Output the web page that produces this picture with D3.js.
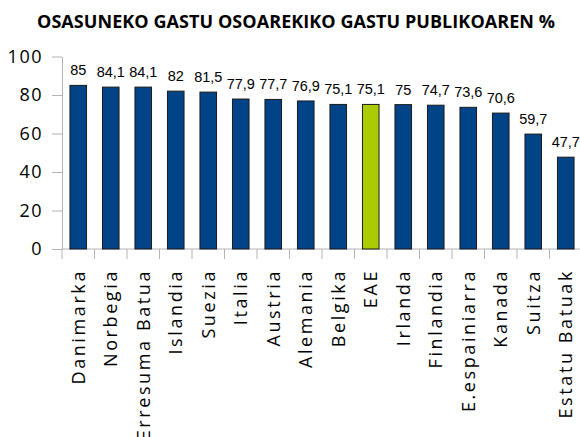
<!DOCTYPE html>
<html lang="eu">
<head>
    <meta charset="UTF-8">
    <title>Osasuneko gastua</title>
    <script src="https://d3js.org/d3.v7.min.js"></script>
    <style>
        body { margin: 0; background: #fff; }
        .axis path, .axis line { stroke: #b3b3b3; }
        .axis text { font-family: "Open Sans", sans-serif; fill: #000; }
    </style>
</head>
<body>
<script>
    const width  = 580;
    const height = 437;

    const countries = ["Danimarka", "Norbegia", "Erresuma Batua", "Islandia", "Suezia", "Italia",
                       "Austria", "Alemania", "Belgika", "EAE", "Irlanda", "Finlandia",
                       "E.espainiarra", "Kanada", "Suitza", "Estatu Batuak"];
    const values    = [85, 84.1, 84.1, 82, 81.5, 77.9, 77.7, 76.9, 75.1, 75.1, 75, 74.7, 73.6, 70.6, 59.7, 47.7];
    const yTicks    = [0, 20, 40, 60, 80, 100];
    const highlight = "EAE";

    const x = d3.scaleBand().domain(countries).range([62, 582]).paddingInner(0.49).paddingOuter(0.245);
    const y = d3.scaleLinear().domain([0, 100]).range([249, 56.5]);

    const svg = d3.select("body").append("svg").attr("width", width).attr("height", height);

    svg.append("text")
       .attr("x", 296).attr("y", 28)
       .attr("text-anchor", "middle")
       .attr("font-family", "Open Sans, sans-serif")
       .attr("font-weight", "bold")
       .attr("font-size", 18)
       .attr("textLength", 518)
       .text("OSASUNEKO GASTU OSOAREKIKO GASTU PUBLIKOAREN %");

    // y axis
    const yAxis = svg.append("g").attr("class", "axis")
        .attr("transform", "translate(62,0)")
        .call(d3.axisLeft(y).tickValues(yTicks).tickSize(10).tickPadding(9).tickSizeOuter(0));
    yAxis.selectAll("text").attr("font-size", 18).style("letter-spacing", "1.5px");

    // x axis, ticks sit between the categories
    const xAxis = svg.append("g").attr("class", "axis")
        .attr("transform", "translate(0,249)");
    xAxis.append("line").attr("x1", 62).attr("x2", 582);
    xAxis.selectAll(".sep")
        .data(countries)
        .join("line")
        .attr("x1", d => x(d) - x.step() * x.paddingInner() / 2)
        .attr("x2", d => x(d) - x.step() * x.paddingInner() / 2)
        .attr("y1", 0).attr("y2", 10);
    xAxis.selectAll(".lbl")
        .data(countries)
        .join("text")
        .attr("transform", d => `translate(${x(d) + x.bandwidth() / 2 + 6.5},${20}) rotate(-90)`)
        .attr("text-anchor", "end")
        .attr("font-size", 18)
        .style("letter-spacing", "2.6px")
        .text(d => d);

    // bars
    svg.selectAll(".bar")
        .data(countries)
        .join("rect")
        .attr("x", d => x(d))
        .attr("y", (d, i) => y(values[i]))
        .attr("width", x.bandwidth())
        .attr("height", (d, i) => y(0) - y(values[i]))
        .attr("fill", d => d === highlight ? "#aacc00" : "#004386")
        .attr("stroke", "#1a1a1a")
        .attr("stroke-width", 1);

    // value labels
    svg.selectAll(".val")
        .data(countries)
        .join("text")
        .attr("x", d => x(d) + x.bandwidth() / 2)
        .attr("y", (d, i) => y(values[i]) - 10)
        .attr("text-anchor", "middle")
        .attr("font-family", "Liberation Sans, Arial, sans-serif")
        .attr("font-size", 14.5)
        .text((d, i) => String(values[i]).replace(".", ","));
</script>
</body>
</html>
